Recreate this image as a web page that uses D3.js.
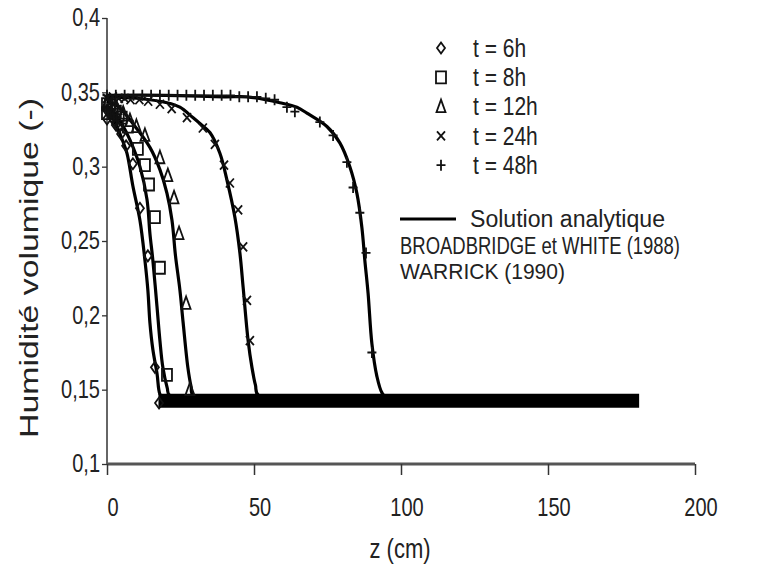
<!DOCTYPE html>
<html><head><meta charset="utf-8">
<script src="https://cdn.jsdelivr.net/npm/d3@7"></script>
<style>body{margin:0;background:#fff}svg{display:block}text{font-family:"Liberation Sans",Arial,sans-serif;fill:#222}</style>
</head><body>
<script>
// ---- data ----
const xTicks = [0, 50, 100, 150, 200];
const yTicks = [0.1, 0.15, 0.2, 0.25, 0.3, 0.35, 0.4];
const yTickLabels = ["0,1", "0,15", "0,2", "0,25", "0,3", "0,35", "0,4"];
const seriesLabels = ["t = 6h", "t = 8h", "t = 12h", "t = 24h", "t = 48h"];
const seriesSymbols = ["diamond", "square", "triangle", "cross", "plus"];

// analytic solution (z cm, theta)
const analytic6h = [[0,0.338],[1.5,0.334],[3.4,0.327],[5,0.319],[6.8,0.309],[8.8,0.287],[11.2,0.264],[12.9,0.237],[13.9,0.217],[14.6,0.195],[15.6,0.177],[17.0,0.161],[18.0,0.147],[19,0.145],[180,0.145]];
const analytic8h = [[0,0.341],[3,0.335],[5,0.329],[7.8,0.318],[11.2,0.300],[13.6,0.278],[14.6,0.255],[15.6,0.237],[17.0,0.206],[18.0,0.183],[19.0,0.165],[20.5,0.151],[21.4,0.146],[180,0.145]];
const analytic12h = [[0,0.344],[4,0.340],[8.8,0.329],[14.6,0.313],[18.0,0.298],[20.4,0.282],[22.1,0.264],[23.3,0.240],[24.8,0.217],[25.9,0.195],[27.5,0.165],[28.6,0.152],[29.4,0.146],[180,0.145]];
const analytic24h = [[0,0.347],[10,0.346],[20.4,0.343],[24.8,0.340],[29.2,0.333],[31.6,0.329],[35.0,0.323],[38.4,0.309],[40.8,0.291],[43.5,0.266],[45.2,0.242],[46.3,0.219],[48.0,0.183],[49.3,0.165],[50.5,0.153],[51.6,0.146],[180,0.145]];
const analytic48h = [[0,0.348],[20,0.348],[40,0.347],[47.6,0.347],[58.8,0.343],[64.6,0.340],[68.0,0.336],[74.8,0.327],[79.2,0.316],[82.6,0.300],[85.0,0.282],[86.7,0.259],[87.7,0.237],[88.8,0.215],[90.1,0.181],[91.8,0.159],[93.5,0.148],[95,0.145],[180,0.145]];

// numerical points (markers)
const points6h = [[0,0.332],[0,0.338],[1,0.336],[1.7,0.333],[2.5,0.331],[3,0.328],[4,0.326],[4.8,0.322],[6.5,0.314],[8.8,0.302],[11.2,0.272],[13.9,0.240],[16.3,0.165],[17.7,0.141]];
const points8h = [[0,0.336],[0,0.342],[1,0.341],[2,0.338],[3,0.337],[4,0.335],[5,0.333],[7.1,0.327],[10.5,0.312],[12.9,0.301],[14.3,0.288],[16.3,0.266],[18.0,0.232],[20.4,0.160]];
const points12h = [[0,0.343],[1.5,0.342],[3.4,0.339],[5.5,0.336],[7.8,0.331],[10,0.327],[12.9,0.321],[18.0,0.306],[20.7,0.294],[22.8,0.279],[24.5,0.255],[26.9,0.208],[28.2,0.150]];
const points24h = [[0,0.346],[2,0.347],[4,0.346],[6,0.346],[8,0.345],[11,0.345],[14,0.344],[18,0.342],[22,0.339],[27.2,0.333],[32.6,0.326],[36.7,0.315],[39.8,0.301],[41.8,0.289],[44.6,0.271],[46.3,0.246],[47.6,0.210],[48.6,0.183]];
const points48h = [[0,0.348],[3,0.348],[6,0.348],[9,0.348],[12,0.348],[15,0.348],[18,0.348],[21,0.348],[24,0.348],[27,0.348],[30,0.348],[33,0.348],[36,0.348],[39,0.348],[42,0.348],[45,0.347],[48,0.347],[51,0.347],[54,0.346],[57,0.345],[61.2,0.340],[63.9,0.337],[72.4,0.330],[76.9,0.321],[81.6,0.303],[83.7,0.286],[86.0,0.269],[88.1,0.242],[90.1,0.175]];

// initial water content band (dense overlapping markers at depth)
const initialProfile = [[17.5,0.1425],[181,0.1425]];

const analyticSeries = [analytic6h, analytic8h, analytic12h, analytic24h, analytic48h];
const pointSeries = [points6h, points8h, points12h, points24h, points48h];

// ---- drawing ----
const W = 762, H = 565;
const svg = d3.select("body").append("svg").attr("width", W).attr("height", H);
const x = d3.scaleLinear().domain([0, 200]).range([107, 695]);
const y = d3.scaleLinear().domain([0.1, 0.4]).range([464, 18]);

function txt(str, px, py, size, anchor, sy, rot, len) {
  const t = svg.append("text").text(str)
    .attr("font-size", size)
    .attr("text-anchor", anchor || "start")
    .attr("dominant-baseline", "central");
  if (len) t.attr("textLength", len).attr("lengthAdjust", "spacingAndGlyphs");
  t.attr("transform", `translate(${px},${py}) scale(1,${sy})` + (rot ? ` rotate(${rot})` : ""));
  return t;
}

// axes
const yAxis = svg.append("g").attr("transform", "translate(107,0)")
  .call(d3.axisLeft(y).tickValues(yTicks).tickSize(5).tickFormat(() => ""));
yAxis.select(".domain").attr("stroke", "#333").attr("stroke-width", 1.5).attr("d", `M0,${y(0.4)}V${y(0.1)}`);
yAxis.selectAll(".tick line").attr("stroke", "#333").attr("stroke-width", 1.3);
yTicks.forEach((v, i) => txt(yTickLabels[i], 100, y(v), 20, "end", 1.25));

const xAxis = svg.append("g").attr("transform", "translate(0,464)")
  .call(d3.axisBottom(x).tickValues(xTicks).tickSize(11).tickFormat(() => ""));
xAxis.select(".domain").attr("stroke", "#555").attr("stroke-width", 3).attr("d", `M${x(0)},0H${x(200)}`);
xAxis.selectAll(".tick line").attr("stroke", "#333").attr("stroke-width", 1.5);
xTicks.forEach(v => txt(String(v), x(v) + 6, 508, 20, "middle", 1.25));

txt("z (cm)", 400, 548, 22, "middle", 1.25);
txt("Humidité volumique (-)", 29, 268, 26, "middle", 1.3, -90);

// band
const line = d3.line().x(d => x(d[0])).y(d => y(d[1]));
svg.append("path").attr("d", line(initialProfile)).attr("stroke", "#000").attr("stroke-width", 14).attr("fill", "none");

// analytic curves
const curve = d3.line().x(d => x(d[0])).y(d => y(d[1])).curve(d3.curveCatmullRom.alpha(0.5));
analyticSeries.forEach(s => svg.append("path").attr("d", curve(s)).attr("stroke", "#000").attr("stroke-width", 3.2).attr("fill", "none"));

// markers
function marker(g, type, cx, cy) {
  const p = g.append("path").attr("fill", "none").attr("stroke", "#111").attr("stroke-width", 1.8);
  if (type === "diamond") p.attr("d", `M${cx},${cy-5.5}L${cx+4},${cy}L${cx},${cy+5.5}L${cx-4},${cy}Z`);
  else if (type === "square") p.attr("d", `M${cx-5},${cy-6}h10v12h-10Z`);
  else if (type === "triangle") p.attr("d", `M${cx},${cy-7}L${cx+4.5},${cy+5.5}L${cx-4.5},${cy+5.5}Z`);
  else if (type === "cross") p.attr("d", `M${cx-4},${cy-4.5}L${cx+4},${cy+4.5}M${cx+4},${cy-4.5}L${cx-4},${cy+4.5}`);
  else p.attr("d", `M${cx-4.5},${cy}H${cx+4.5}M${cx},${cy-5.5}V${cy+5.5}`);
}
const mg = svg.append("g");
pointSeries.forEach((s, i) => s.forEach(d => marker(mg, seriesSymbols[i], x(d[0]), y(d[1]))));

// legend
const lg = svg.append("g");
seriesLabels.forEach((l, i) => {
  const ly = 48 + i * 29.3;
  marker(lg, seriesSymbols[i], 441, ly);
  txt(l, 473, ly, 21, "start", 1.2);
});
svg.append("line").attr("x1", 400).attr("x2", 456).attr("y1", 219).attr("y2", 219).attr("stroke", "#000").attr("stroke-width", 3.2);
txt("Solution analytique", 470, 219, 20, "start", 1.15, null, 195);
txt("BROADBRIDGE et WHITE (1988)", 400, 245.5, 20, "start", 1.15, null, 280);
txt("WARRICK (1990)", 400, 271.5, 20, "start", 1.12, null, 165);
</script>
</body></html>
